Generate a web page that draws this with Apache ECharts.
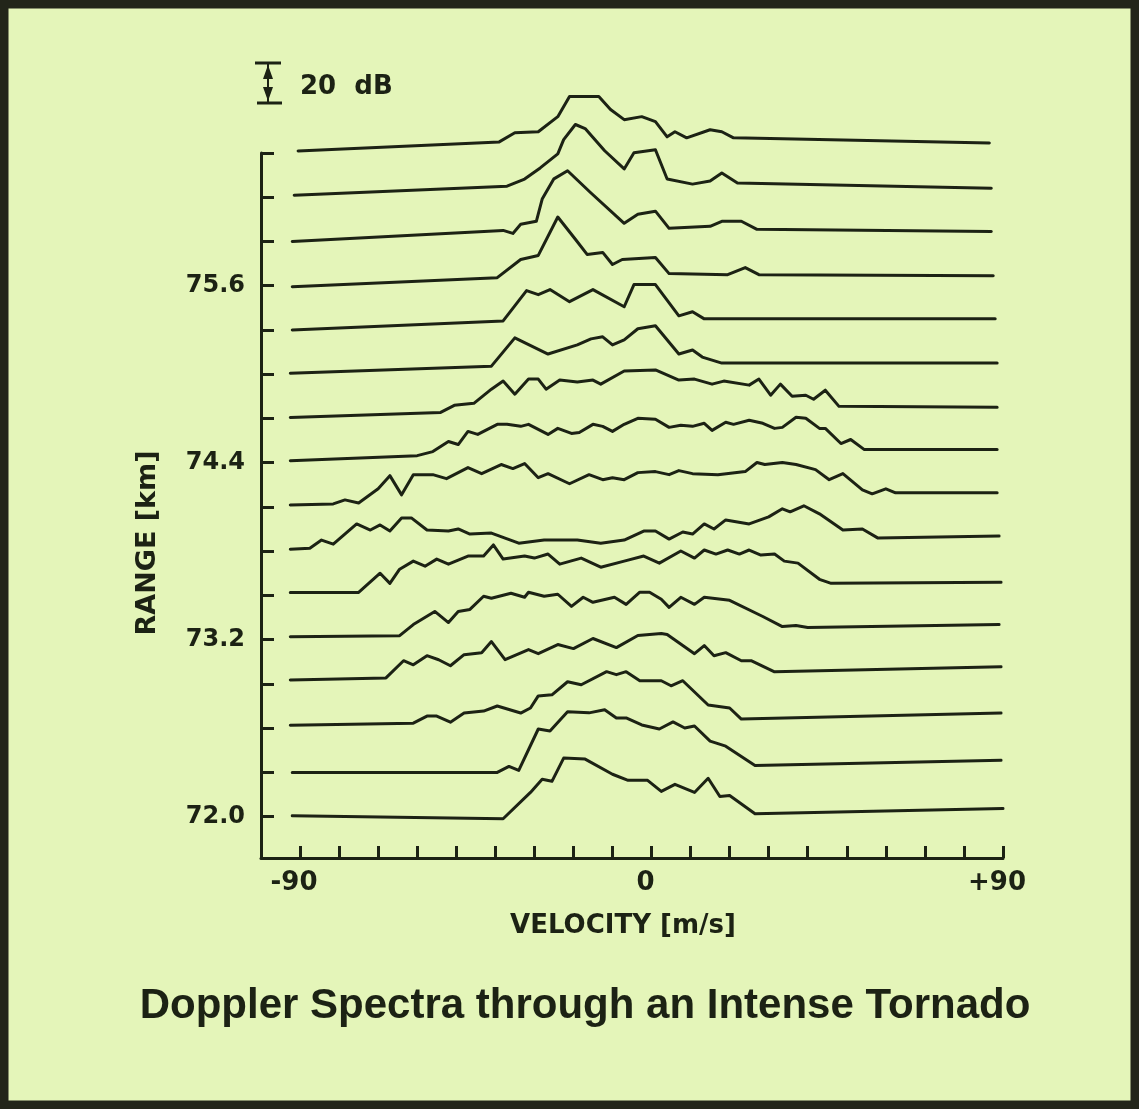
<!DOCTYPE html>
<html>
<head>
<meta charset="utf-8">
<title>Doppler Spectra through an Intense Tornado</title>
<script src="https://cdn.jsdelivr.net/npm/echarts@6/dist/echarts.min.js"></script>
<style>
  html, body { margin: 0; padding: 0; background: #e4f5b9; }
  #chart { width: 1139px; height: 1109px; }
</style>
</head>
<body>
<div id="chart"></div>
<script>
// range gates (km), one spectrum per gate, bottom to top
const ranges = [72.0, 72.3, 72.6, 72.9, 73.2, 73.5, 73.8, 74.1, 74.4, 74.7, 75.0, 75.3, 75.6, 75.9, 76.2, 76.5]
const rangeTicks = [72.0, 72.3, 72.6, 72.9, 73.2, 73.5, 73.8, 74.1, 74.4, 74.7, 75.0, 75.3, 75.6, 75.9, 76.2, 76.5]
const rangeLabels = [72.0, 73.2, 74.4, 75.6]
const velocityTicks = [-90, -80, -70, -60, -50, -40, -30, -20, -10, 0, 10, 20, 30, 40, 50, 60, 70, 80, 90]
const velocityLabels = [-90, 0, 90]

// spectra: [velocity m/s, power dB above the gate's baseline]
const r720 = [[-92, 0.5], [-38, -1], [-31, 12], [-28, 18.5], [-25.5, 17.5], [-22.5, 29], [-17, 28.5], [-10, 21], [-6, 18], [-1, 18], [2.5, 12.5], [6, 16], [11, 12], [14.5, 19], [17.5, 10], [20, 10.5], [26.5, 1.5], [90, 4]]
const r723 = [[-92, 0], [-39.5, 0], [-36.5, 3], [-34, 1], [-29, 21.5], [-26, 20.5], [-21.5, 30], [-16, 29.5], [-12, 31], [-9, 27], [-6.5, 27], [-2.5, 23.5], [2, 21.5], [5.5, 25], [8.5, 22], [11, 23], [15, 15.5], [19, 13], [26.5, 3.5], [89.5, 6]]
const r726 = [[-92.5, 1.5], [-61, 2.5], [-57.5, 6], [-55, 6], [-51.5, 3], [-48, 7.5], [-43, 8.5], [-39.5, 11], [-33.5, 7.5], [-31, 10], [-29, 16], [-25.5, 16.5], [-21.5, 23], [-18, 21.5], [-11.5, 28], [-9, 26.5], [-6.5, 28], [-3, 23.5], [2.5, 23.5], [5, 21], [8, 23.5], [14.5, 11.5], [20, 10], [23, 4.5], [89.5, 7.5]]
const r729 = [[-92.5, 2], [-68, 3], [-63.5, 11.5], [-61, 9.5], [-57.5, 14], [-54.5, 12], [-51.5, 9], [-48, 14.5], [-43.5, 15.5], [-41, 21], [-37.5, 12], [-31.5, 17], [-29, 15], [-24, 19.5], [-20, 17.5], [-15, 22.5], [-9, 18], [-3.5, 24], [2.5, 25], [4, 24.5], [11, 15], [13.5, 19], [16, 14], [19, 15.5], [23, 11.5], [25.5, 11.5], [31.5, 6], [89.5, 8.5]]
const r732 = [[-92.5, 1.5], [-64.5, 2], [-61, 7.5], [-55.5, 14], [-52, 8.5], [-49.5, 14], [-46.5, 15], [-43, 21.5], [-41, 20.5], [-36, 23], [-32.5, 21], [-31.5, 23.5], [-27.5, 21.5], [-24, 22.5], [-20.5, 16.5], [-17.5, 21], [-15, 18.5], [-9.5, 21], [-6.5, 17.5], [-3, 23.5], [-0.5, 23.5], [2.5, 20], [4.5, 16], [7.5, 21], [11, 17.5], [13.5, 21], [20, 19.5], [28.5, 11.5], [33.5, 6.5], [37, 7], [40, 6], [89, 7.5]]
const r735 = [[-92.5, 1.5], [-75, 1.5], [-69.5, 11], [-67, 6], [-64.5, 13], [-61, 17], [-58, 14.5], [-55, 18], [-52, 15.5], [-47, 19.5], [-43, 19.5], [-40.5, 25], [-38, 18], [-32.5, 19.5], [-30, 18.5], [-26.5, 20.5], [-23.5, 15.5], [-18, 18.5], [-13, 14], [-7, 17], [-2, 19.5], [2, 16], [7.5, 22], [11, 18.5], [13.5, 22.5], [16.5, 20.5], [19.5, 22.5], [22.5, 20.5], [25, 22.5], [28, 20], [31.5, 20.5], [34, 17], [37.5, 16], [43, 8], [46, 6], [89.5, 6.5]]
const r738 = [[-92.5, 1], [-87.5, 1.5], [-84.5, 5.5], [-81.5, 3.5], [-75.5, 13.5], [-72, 10.5], [-69.5, 13], [-67, 10], [-64, 16.5], [-61.5, 16.5], [-57.5, 10.5], [-52, 10], [-49.5, 11], [-46.5, 8.5], [-41, 9], [-34, 4], [-27.5, 5.5], [-19, 5.5], [-13, 4], [-7, 5.5], [-2, 10], [1, 10], [4.5, 6], [8, 9.5], [10.5, 8.5], [13.5, 13.5], [16, 11], [19, 15.5], [25, 13.5], [30, 17], [33.5, 21], [35.5, 19.5], [39, 22.5], [43, 18.5], [49, 10.5], [54, 11], [58, 6.5], [89, 7.5]]
const r741 = [[-92.5, 1], [-81.5, 1.5], [-78.5, 3.5], [-75, 2], [-70, 9], [-67, 15.5], [-64, 6], [-61, 16], [-56, 16], [-52.5, 14], [-47, 19.5], [-43.5, 16.5], [-38.5, 21], [-35.5, 19], [-32.5, 21.5], [-29, 14.5], [-26.5, 16.5], [-21, 11.5], [-16, 16], [-12.5, 13.5], [-10, 14.5], [-7, 13.5], [-3.5, 17], [1, 17.5], [4.5, 16], [7, 18], [10.5, 16.5], [17, 16], [24, 17.5], [27, 22], [29, 21], [33.5, 22], [37, 21], [42, 18.5], [45.5, 13.5], [49, 16.5], [54, 8.5], [56.5, 6.5], [60, 9], [62.5, 7], [88.5, 7]]
const r744 = [[-92.5, 1], [-60, 3.5], [-56, 5.5], [-52, 10.5], [-49.5, 9], [-47, 15.5], [-44.5, 14], [-39.5, 19], [-37, 19], [-33.5, 18], [-31.5, 19], [-26.5, 14], [-24, 17], [-20.5, 14.5], [-18.5, 15], [-15, 19], [-12.5, 18], [-10, 15.5], [-7, 19], [-3.5, 22], [1, 21.5], [4.5, 17.5], [7.5, 18.5], [10.5, 18], [13.5, 19.5], [15.5, 16], [19, 20], [21, 19], [25, 21], [28.5, 19.5], [31.5, 17], [33.5, 17.5], [37, 22.5], [39.5, 22], [43, 17], [44.5, 17], [48.5, 9.5], [51, 11.5], [54.5, 6.5], [88.5, 6.5]]
const r747 = [[-92.5, 0.5], [-54, 3], [-50.5, 6.5], [-45.5, 7.5], [-41, 14.5], [-38, 18.5], [-35, 12], [-31.5, 19.5], [-29, 19.5], [-27, 14.5], [-23.5, 19], [-19, 18], [-15, 19], [-13, 17], [-7, 23.5], [1, 24], [7, 19], [11, 19.5], [15.5, 17], [18.5, 18.5], [25, 16.5], [27.5, 19.5], [30.5, 11.5], [33, 17], [36, 11], [39.5, 11.5], [41.5, 9.5], [44.5, 14], [48, 6], [88.5, 5.5]]
const r750 = [[-92.5, 0.5], [-41, 4], [-35, 18], [-26.5, 10], [-19, 14.5], [-15.5, 17.5], [-12.5, 18.5], [-10, 14.5], [-7, 17], [-3.5, 22.5], [1, 24], [7, 10], [10.5, 12], [13, 8.5], [18, 5.5], [88.5, 5.5]]
const r753 = [[-92, 0], [-38, 4.5], [-32, 19.5], [-29, 17.5], [-26, 20], [-21, 14], [-15, 20], [-7, 11.5], [-4.5, 22.5], [1, 22.5], [7, 7], [10.5, 9], [13.5, 5.5], [88, 5.5]]
const r756 = [[-92, -0.5], [-39.5, 4], [-33.5, 13], [-29, 15], [-24, 34], [-19.5, 23], [-16.5, 15.5], [-12.5, 16.5], [-10, 10.5], [-7.5, 13], [1, 14], [4.5, 6], [19.5, 5.5], [24, 9], [27.5, 5.5], [87.5, 5]]
const r759 = [[-92, 0], [-38, 5.5], [-35.5, 4], [-33.5, 8.5], [-29.5, 10], [-28, 21], [-25, 31], [-21.5, 35], [-15.5, 24], [-7, 9], [-3.5, 13.5], [1, 15], [4.5, 6.5], [15, 7.5], [18, 10], [23, 10], [27, 6], [87, 5]]
const r762 = [[-91.5, 1], [-37, 5.5], [-32.5, 9], [-28.5, 14.5], [-24, 21.5], [-22.5, 28.5], [-19.5, 36], [-17, 34], [-12, 23], [-7, 14], [-4.5, 22], [1, 23.5], [4, 9], [10.5, 6.5], [15, 8], [18, 12], [22, 7], [87, 4.5]]
const r765 = [[-90.5, 1], [-39, 5.5], [-35, 10], [-29, 10.5], [-24, 18], [-21, 28], [-13.5, 28], [-10.5, 21.5], [-7, 16.5], [-2.5, 18], [1, 15.5], [4, 8], [6, 10.5], [9, 7.5], [15, 11.5], [18, 10.5], [21, 7.5], [86.5, 5]]

const spectra = [r720, r723, r726, r729, r732, r735, r738, r741, r744, r747, r750, r753, r756, r759, r762, r765]

// 20 dB on the figure is about the same height as 0.28 km on the range axis
const DB_KM = 0.0137

const INK = '#1c2214'
const BG = '#e4f5b9'
const LABEL_FONT = '"DejaVu Sans", Verdana, sans-serif'
const TITLE_FONT = '"Liberation Sans", Arial, sans-serif'

const chart = echarts.init(document.getElementById('chart'))

const series = spectra.map((spec, i) => ({
  type: 'line',
  name: ranges[i].toFixed(1) + ' km',
  data: spec.map(([v, db]) => [v, ranges[i] + db * DB_KM]),
  symbol: 'none',
  smooth: false,
  clip: false,
  lineStyle: { color: INK, width: 3, join: 'round', cap: 'round' },
  silent: true
}))

const option = {
  backgroundColor: BG,
  animation: false,
  title: {
    text: 'Doppler Spectra through an Intense Tornado',
    left: 580,
    top: 980,
    textAlign: 'center',
    textStyle: { color: INK, fontSize: 42, fontWeight: 'bold', fontFamily: TITLE_FONT }
  },
  grid: { left: 261, right: 136, top: 153, bottom: 251 },
  xAxis: {
    type: 'value',
    min: -100,
    max: 90,
    axisLine: { show: true, onZero: false, lineStyle: { color: INK, width: 3 } },
    axisTick: {
      show: true,
      inside: true,
      length: 12,
      customValues: velocityTicks,
      lineStyle: { color: INK, width: 3 }
    },
    axisLabel: {
      customValues: velocityLabels,
      formatter: v => (v > 0 ? '+' + v : String(v)),
      color: INK,
      fontSize: 26,
      fontWeight: 'bold',
      fontFamily: LABEL_FONT,
      margin: 12,
      padding: [0, 12, 0, 0]
    },
    splitLine: { show: false }
  },
  yAxis: {
    type: 'value',
    min: 71.72,
    max: 76.5,
    axisLine: { show: true, onZero: false, lineStyle: { color: INK, width: 3 } },
    axisTick: {
      show: true,
      inside: true,
      length: 13,
      customValues: rangeTicks,
      lineStyle: { color: INK, width: 3 }
    },
    axisLabel: {
      customValues: rangeLabels,
      formatter: v => Number(v).toFixed(1),
      color: INK,
      fontSize: 24,
      fontWeight: 'bold',
      fontFamily: LABEL_FONT,
      margin: 16
    },
    splitLine: { show: false }
  },
  graphic: [
    // slide frame
    {
      type: 'rect',
      shape: { x: 4, y: 4, width: 1131, height: 1101 },
      style: { fill: 'none', stroke: '#22251a', lineWidth: 9 }
    },
    // 20 dB scale bar
    { type: 'line', shape: { x1: 255, y1: 63, x2: 281, y2: 63 }, style: { stroke: INK, lineWidth: 3 } },
    { type: 'line', shape: { x1: 257, y1: 103, x2: 282, y2: 103 }, style: { stroke: INK, lineWidth: 3 } },
    { type: 'line', shape: { x1: 268, y1: 63, x2: 268, y2: 103 }, style: { stroke: INK, lineWidth: 2 } },
    { type: 'polygon', shape: { points: [[268, 65], [263, 79], [273, 79]] }, style: { fill: INK } },
    { type: 'polygon', shape: { points: [[268, 101], [263, 87], [273, 87]] }, style: { fill: INK } },
    {
      type: 'text',
      x: 300,
      y: 87,
      style: { text: '20  dB', fill: INK, font: 'bold 26px ' + LABEL_FONT, verticalAlign: 'middle' }
    },
    // axis titles
    {
      type: 'text',
      x: 148,
      y: 543,
      rotation: Math.PI / 2,
      style: {
        text: 'RANGE [km]',
        fill: INK,
        font: 'bold 27px ' + LABEL_FONT,
        align: 'center',
        verticalAlign: 'middle'
      }
    },
    {
      type: 'text',
      x: 623,
      y: 926,
      style: {
        text: 'VELOCITY [m/s]',
        fill: INK,
        font: 'bold 26px ' + LABEL_FONT,
        align: 'center',
        verticalAlign: 'middle'
      }
    }
  ],
  series
}

chart.setOption(option)
</script>
</body>
</html>
